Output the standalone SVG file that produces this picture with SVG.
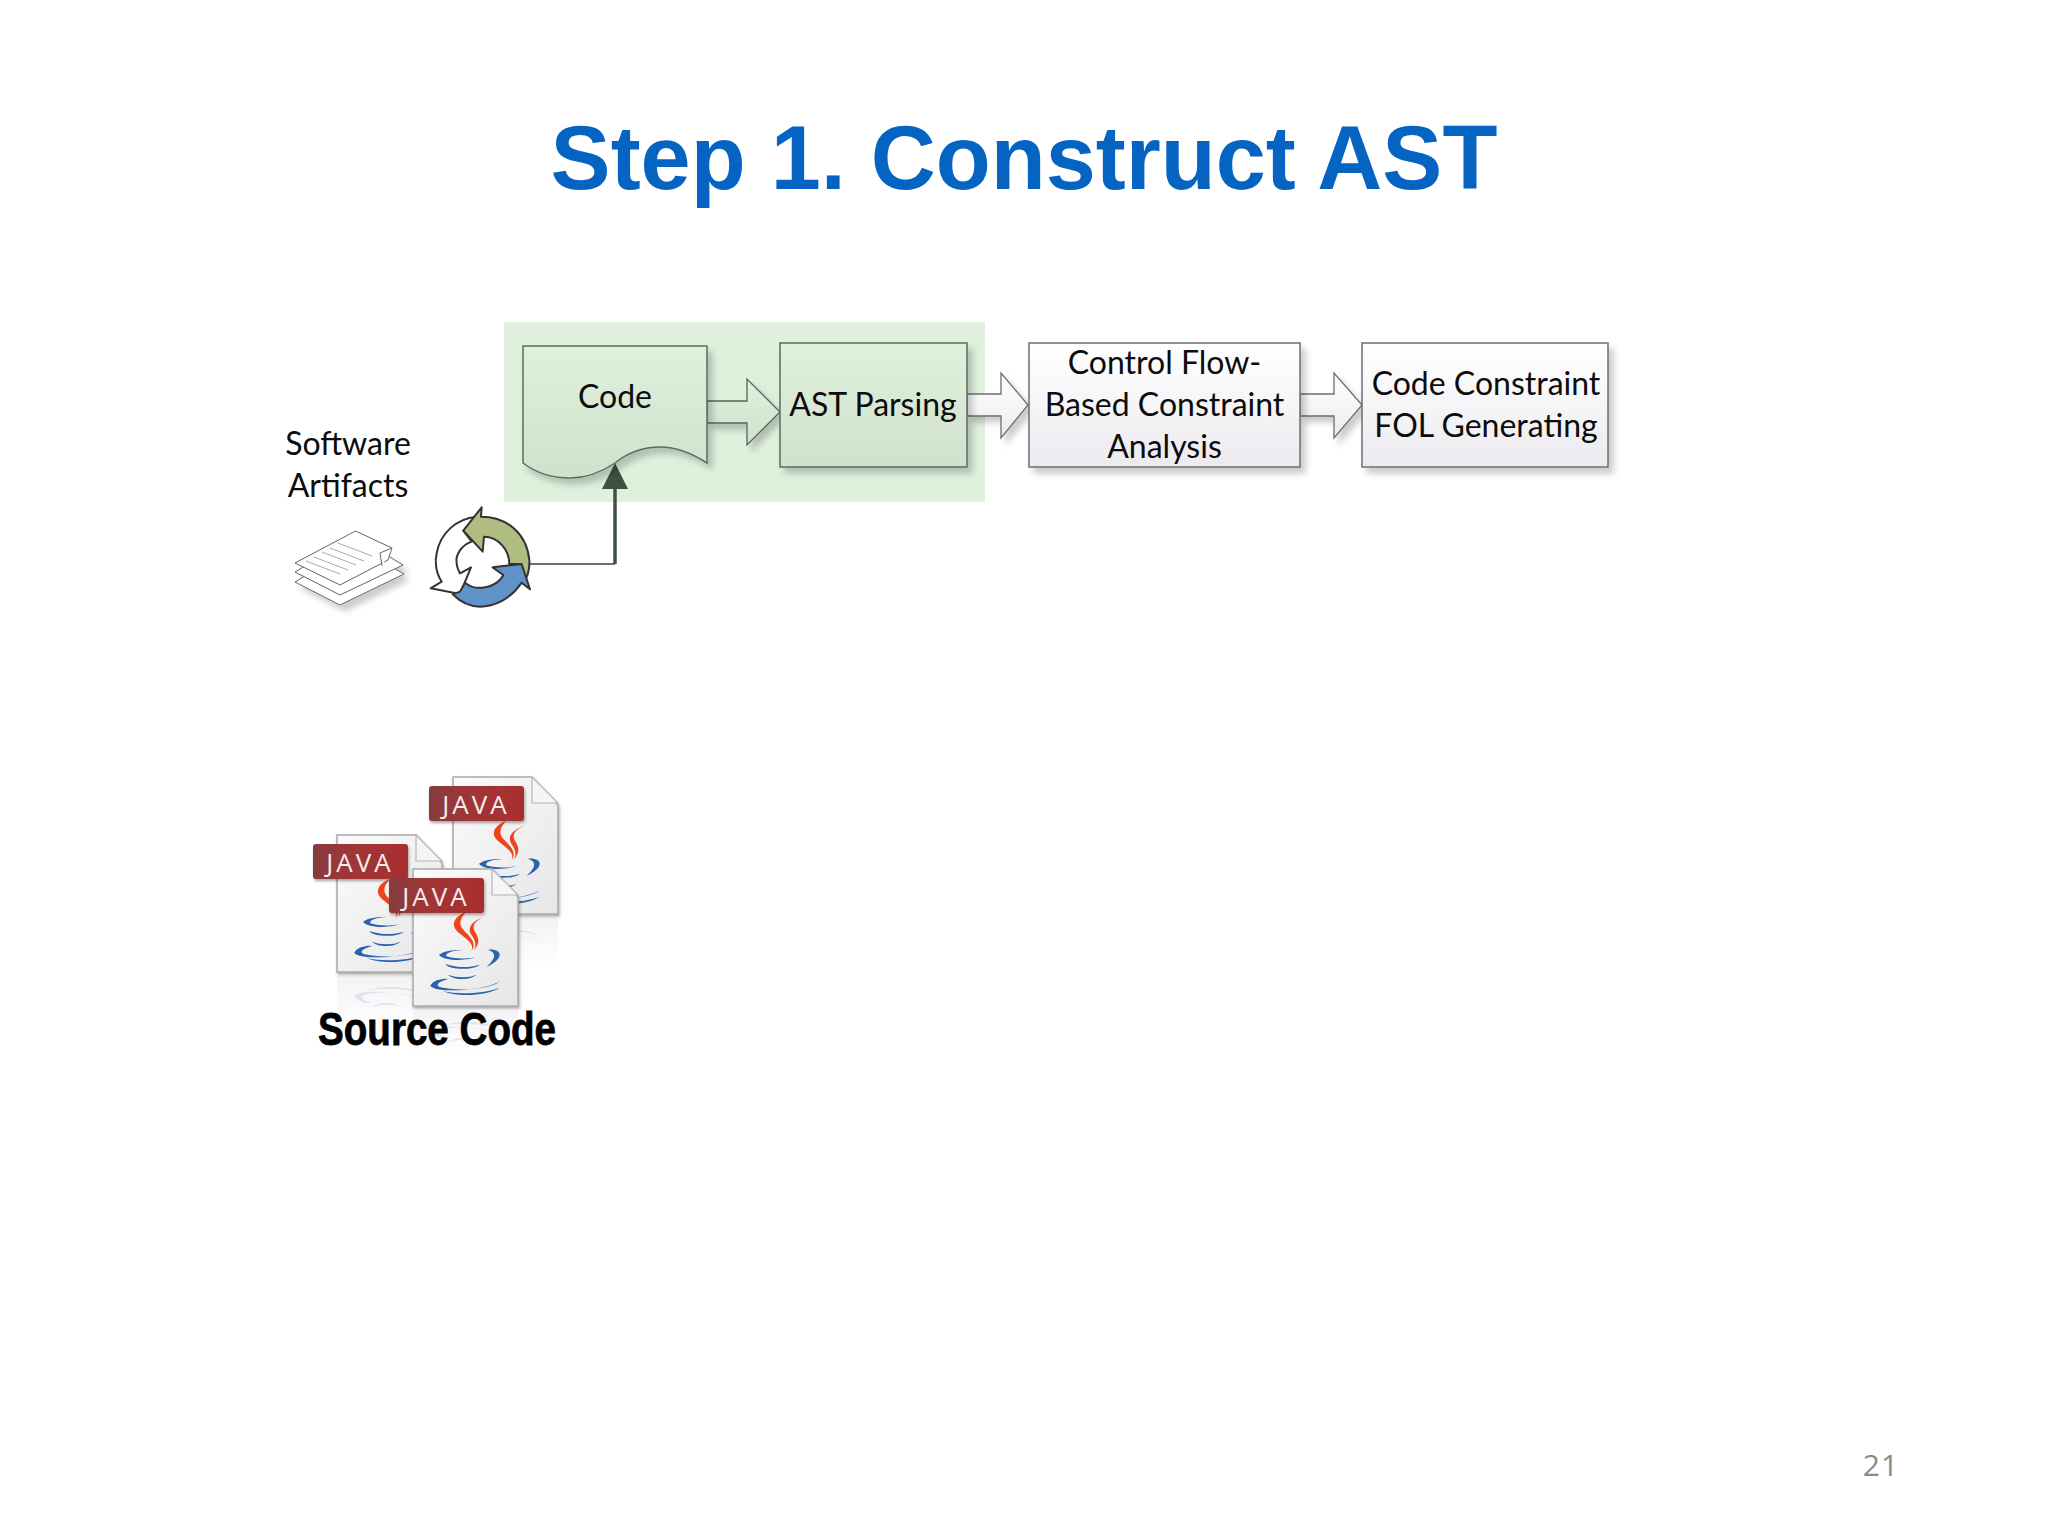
<svg xmlns="http://www.w3.org/2000/svg" xmlns:xlink="http://www.w3.org/1999/xlink" width="2048" height="1536" viewBox="0 0 2048 1536">
<style>
.lbl{font-family:Lato,"Open Sans","Liberation Sans",sans-serif;font-size:32px;text-anchor:middle;fill:#0c0c0c}
.box{stroke:#6e6e72;stroke-width:1.5;filter:url(#sh)}
.boxg{stroke:#5a6e5c;stroke-width:1.5;filter:url(#sh)}
.arrw{fill:url(#gw);stroke:#6e6e72;stroke-width:1.3;filter:url(#sh)}
.arrg{fill:url(#gg);stroke:#55685a;stroke-width:1.3;filter:url(#sh)}
.java{font-family:"Open Sans","Liberation Sans",sans-serif;font-size:26px;letter-spacing:3px;fill:#f6ecea;text-anchor:middle}
.sheet{fill:#fff;stroke:#666;stroke-width:1}
.rec{stroke:#333;stroke-width:6;stroke-linejoin:round}
</style>
<defs>
<linearGradient id="gw" x1="0" y1="0" x2="0" y2="1"><stop offset="0" stop-color="#fff"/><stop offset="1" stop-color="#eceaef"/></linearGradient>
<linearGradient id="gg" x1="0" y1="0" x2="0" y2="1"><stop offset="0" stop-color="#dff0dd"/><stop offset="1" stop-color="#d0e2ce"/></linearGradient>
<linearGradient id="gf" x1="0" y1="0" x2="1" y2="1"><stop offset="0" stop-color="#fbfbfb"/><stop offset="1" stop-color="#e6e6e8"/></linearGradient>
<linearGradient id="gl" x1="0" y1="0" x2="1" y2="0"><stop offset="0" stop-color="#853c3e"/><stop offset=".4" stop-color="#a03538"/><stop offset="1" stop-color="#aa2e2e"/></linearGradient>
<linearGradient id="gr" x1="0" y1="0" x2="0" y2="1"><stop offset="0" stop-color="#f3f3f5"/><stop offset="1" stop-color="#fff"/></linearGradient>
<filter id="sh" x="-15%" y="-15%" width="135%" height="135%"><feDropShadow dx="5" dy="6" stdDeviation="3" flood-color="#000" flood-opacity=".2"/></filter>
<filter id="sm" x="-15%" y="-15%" width="135%" height="135%"><feDropShadow dx="1" dy="2" stdDeviation="1.5" flood-color="#000" flood-opacity=".35"/></filter>
<g id="saucer" transform="translate(-400,-328)" fill="#2a62ad">
<path d="M505,645C530,655 570,655 590,645C575,662 520,662 505,645Z"/>
<path d="M452,678C460,660 495,655 505,658C480,665 465,675 480,682C530,695 610,690 650,672C655,668 662,664 665,660C640,690 470,705 452,678Z"/>
<path d="M490,695C540,705 610,702 660,685C620,710 530,712 490,695Z"/>
</g>
<g id="cup">
<use xlink:href="#saucer" href="#saucer"/>
<g transform="translate(-400,-328)">
<path fill="#f0431c" d="M575,575C590,545 540,530 525,505C515,480 540,465 558,458C540,480 535,495 555,515C580,540 590,555 575,575Z"/>
<path fill="#f0431c" d="M620,470C585,480 560,500 575,525C590,545 590,560 582,572C605,550 595,530 585,515C575,495 590,480 620,470Z"/>
<g fill="#2a62ad">
<path d="M478,585C500,570 540,570 550,572C520,572 495,580 500,590C530,600 580,598 590,590C570,605 490,605 478,585Z"/>
<path d="M625,570C665,565 680,595 620,622C645,600 655,580 625,570Z"/>
<path d="M497,613C530,625 570,625 600,615C585,632 510,632 497,613Z"/>
</g>
</g>
</g>
<g id="sheetfile">
<path d="M0,0H79L105,28V137H0Z" fill="url(#gf)" stroke="#a9a9ad" stroke-width="1.5" filter="url(#sm)"/>
<path d="M79,0V26H105Z" fill="#f5f5f6" stroke="#b5b5b8" stroke-width="1.2"/>
</g>
<g id="tag"><rect width="95" height="35" rx="3" fill="url(#gl)" filter="url(#sm)"/></g>
</defs>
<rect width="2048" height="1536" fill="#fff"/>
<text id="title" x="1024" y="189" font-family="'Liberation Sans',Arial,sans-serif" font-weight="700" font-size="90" text-anchor="middle" fill="#0563c1">Step 1. Construct AST</text>
<rect id="highlight" x="504" y="322" width="481" height="180" fill="#dff0dd"/>
<g id="connectors">
<path d="M707,401H747V379L780,412L747,445V423H707Z" class="arrg"/>
<path d="M967,394H1001V373L1028,405L1001,438V416H967Z" class="arrw"/>
<path d="M1300,394H1334V373L1362,405L1334,438V416H1300Z" class="arrw"/>
<path d="M529,564H615" fill="none" stroke="#6b726c" stroke-width="2"/>
<path d="M615,564V485" fill="none" stroke="#3f5240" stroke-width="3.5"/>
<path d="M615,463L628,489H602Z" fill="#3f5240"/>
</g>
<g id="code"><path class="boxg" fill="url(#gg)" d="M523,346H707V463C690,452 675,447 660,447C640,447 625,455 615,463C600,473 585,478 570,478C550,478 535,472 523,463Z"/><text class="lbl" x="615" y="408" fill="#06200f">Code</text></g>
<g id="ast"><rect class="boxg" fill="url(#gg)" x="780" y="343" width="187" height="124"/><text class="lbl" x="873" y="416">AST Parsing</text></g>
<g id="cfb"><rect class="box" fill="url(#gw)" x="1029" y="343" width="271" height="124"/><text class="lbl" x="1164.500" y="374">Control Flow-</text><text class="lbl" x="1164.500" y="416">Based Constraint</text><text class="lbl" x="1164.500" y="458">Analysis</text></g>
<g id="fol"><rect class="box" fill="url(#gw)" x="1362" y="343" width="246" height="124"/><text class="lbl" x="1486" y="395">Code Constraint</text><text class="lbl" x="1486" y="437">FOL Generating</text></g>
<g id="artifacts">
<text class="lbl" x="348" y="455">Software</text><text class="lbl" x="348" y="497">Artifacts</text>
<g filter="url(#sh)"><path class="sheet" d="M295,582L355,546L404,574L340,605Z"/><path class="sheet" d="M295,572L355,536L403,565L340,595Z"/></g>
<path class="sheet" d="M295,563L355.500,531L392,548L388,560L340,585Z"/>
<path d="M392,548L380,553L382,566" fill="#fff" stroke="#666" stroke-width="1"/>
<path d="M338,543L372,556M330,548L364,561M322,552L356,565M314,557L348,570M306,561L340,574" stroke="#aaa" stroke-width="1"/>
</g>
<g id="cycle" transform="translate(410,490) scale(.3333)">
<path class="rec" fill="#fff" d="M62,295L95,275C75,245 75,210 80,190C90,130 140,85 200,80L160,122L185,155C155,165 135,195 140,220C142,240 148,245 150,250L183,232L150,312Z"/>
<path class="rec" fill="#b0bd80" d="M160,122L215,52L213,80C290,80 350,130 358,210C360,240 350,265 345,268L330,222L298,222C298,180 265,140 222,140L218,185Z"/>
<path class="rec" fill="#5f92c8" d="M248,232L335,222L360,298L335,278C300,330 250,350 210,350C180,350 150,335 128,313L150,305L165,278C180,290 200,295 215,293C245,292 270,275 280,255Z"/>
</g>
<g id="source-code">
<rect x="453" y="918" width="105" height="50" fill="url(#gr)"/>
<rect x="337" y="976" width="76" height="58" fill="url(#gr)"/>
<rect x="413" y="1011" width="105" height="46" fill="url(#gr)"/>
<use xlink:href="#saucer" href="#saucer" transform="translate(453,1055) scale(.3333,-.3333)" opacity=".12"/>
<use xlink:href="#saucer" href="#saucer" transform="translate(337,1113) scale(.3333,-.3333)" opacity=".12"/>
<use xlink:href="#saucer" href="#saucer" transform="translate(413,1148) scale(.3333,-.3333)" opacity=".12"/>
<g id="file-back">
<use xlink:href="#sheetfile" href="#sheetfile" x="453" y="777"/>
<use xlink:href="#cup" href="#cup" transform="translate(453,778) scale(.3333)"/>
<use xlink:href="#tag" href="#tag" x="429" y="786"/>
<text class="java" x="476" y="814">JAVA</text>
</g>
<g id="file-left">
<use xlink:href="#sheetfile" href="#sheetfile" x="337" y="835"/>
<use xlink:href="#cup" href="#cup" transform="translate(337,836) scale(.3333)"/>
<use xlink:href="#tag" href="#tag" x="313" y="844"/>
<text class="java" x="360" y="872">JAVA</text>
</g>
<g id="file-front">
<use xlink:href="#sheetfile" href="#sheetfile" x="413" y="869"/>
<use xlink:href="#cup" href="#cup" transform="translate(413,869) scale(.3333)"/>
<use xlink:href="#tag" href="#tag" x="389" y="878"/>
<text class="java" x="436" y="906">JAVA</text>
</g>
<text x="318" y="1045" textLength="238" lengthAdjust="spacingAndGlyphs" font-family="'Liberation Sans',Arial,sans-serif" font-weight="700" font-size="46" fill="#000" stroke="#000" stroke-width=".8">Source Code</text>
</g>
<text id="page" x="1881" y="1476" font-family="'Open Sans','Liberation Sans',sans-serif" font-size="30" letter-spacing="1" text-anchor="middle" fill="#8a8a8a">21</text>
</svg>
